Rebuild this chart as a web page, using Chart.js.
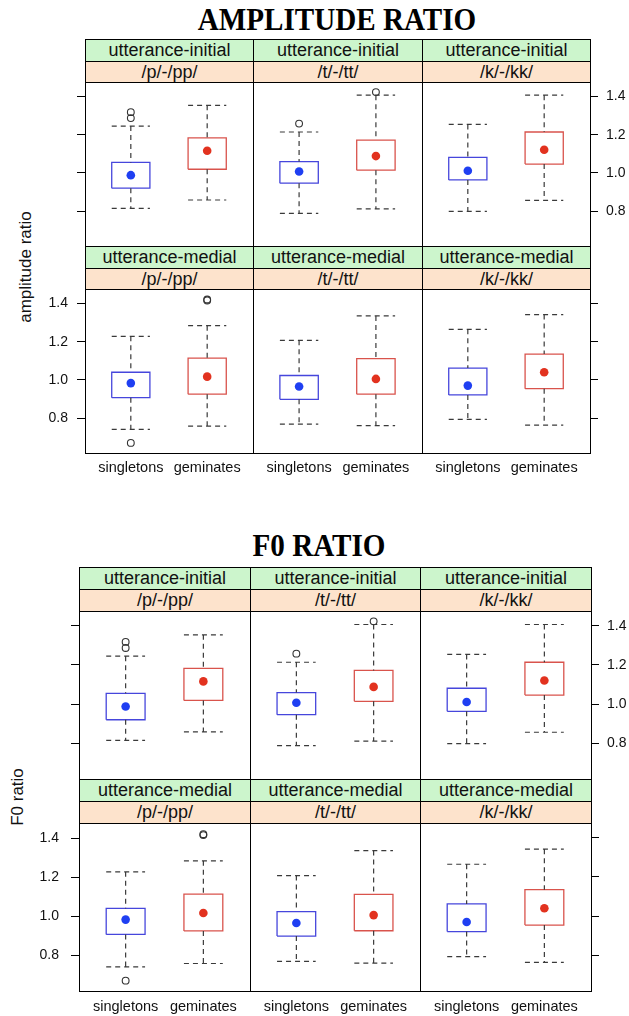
<!DOCTYPE html>
<html>
<head>
<meta charset="utf-8">
<script src="https://cdn.jsdelivr.net/npm/chart.js@4.4.1/dist/chart.umd.min.js"></script>
<style>
  html,body{margin:0;padding:0;background:#fff;}
  body{width:629px;height:1016px;position:relative;overflow:hidden;font-family:"Liberation Sans",Arial,sans-serif;}
  .strip{position:absolute;box-sizing:border-box;border:1px solid #000;text-align:center;font-size:18px;color:#111;white-space:nowrap;overflow:hidden;}
  .green{background:#ccf5cc;}
  .peach{background:#fde3cc;}
  .pbox{position:absolute;box-sizing:border-box;border:1px solid #000;pointer-events:none;}
  canvas{position:absolute;}
  .title{position:absolute;font-family:"Liberation Serif","Times New Roman",serif;font-weight:bold;font-size:32px;line-height:32px;white-space:nowrap;color:#000;transform:translateX(-50%) scaleX(0.91);}
  .ylab{position:absolute;font-size:17px;line-height:17px;color:#111;white-space:nowrap;transform:translate(-50%,-50%) rotate(-90deg);}
</style>
</head>
<body>
<script>
// ---------------- data ----------------
const groups = ['singletons', 'geminates'];
const xTickVals = [1, 2];
const phonemes = ['/p/-/pp/', '/t/-/tt/', '/k/-/kk/'];
const positionsLbl = ['utterance-initial', 'utterance-medial'];
const yTicks = [0.8, 1.0, 1.2, 1.4];
const yTickLabels = ['0.8', '1.0', '1.2', '1.4'];

// panel order: initial p, t, k, medial p, t, k
const singLow  = [0.814, 0.788, 0.798, 0.741, 0.768, 0.793];
const singQ1   = [0.920, 0.946, 0.963, 0.907, 0.898, 0.921];
const singMed  = [0.988, 1.007, 1.011, 0.983, 0.965, 0.970];
const singQ3   = [1.055, 1.059, 1.081, 1.040, 1.023, 1.062];
const singHigh = [1.245, 1.214, 1.254, 1.228, 1.207, 1.265];
const singOut  = [[1.318, 1.287], [1.258], [], [0.670], [], []];

const gemLow   = [0.858, 0.811, 0.856, 0.758, 0.760, 0.763];
const gemQ1    = [1.019, 1.014, 1.046, 0.925, 0.925, 0.954];
const gemMed   = [1.116, 1.088, 1.121, 1.017, 1.005, 1.040];
const gemQ3    = [1.183, 1.172, 1.214, 1.114, 1.111, 1.135];
const gemHigh  = [1.354, 1.407, 1.407, 1.284, 1.335, 1.342];
const gemOut   = [[], [1.423], [], [1.416, 1.421], [], []];

// the F0 figure shows the same values as the amplitude figure
const amplitudeData = {singLow, singQ1, singMed, singQ3, singHigh, singOut, gemLow, gemQ1, gemMed, gemQ3, gemHigh, gemOut};
const f0Data = amplitudeData;

// ---------------- styles / layout ----------------
const Y_MIN = 0.617, Y_MAX = 1.476;
const X_MIN = 0.4, X_MAX = 2.6;
const HALF = 0.25;
const ML = 50, MR = 50, MT = 20, MB = 30;
const BLUE_BOX = '#4646dc', BLUE_DOT = '#1f3ff2';
const RED_BOX = '#d9534c', RED_DOT = '#e2321f';
const WHISK = '#3a3a3a';
const FONT = '"Liberation Sans", Arial, sans-serif';

const FIGS = [
  {title:'AMPLITUDE RATIO', ylab:'amplitude ratio', data:amplitudeData, titleX:337, titleTop:3,
   left:85, colW:168.3, rowTops:[39, 246.2], stripH:21.6, panelH:164, ylabX:25, ylabY:267, lpad:9, rpad:8, xpad:6},
  {title:'F0 RATIO', ylab:'F0 ratio', data:f0Data, titleX:319, titleTop:529,
   left:79, colW:170.6, rowTops:[567, 779], stripH:22, panelH:168, ylabX:17, ylabY:797, lpad:12, rpad:8, xpad:7}
];

function el(cls, css, txt){
  const d = document.createElement('div');
  d.className = cls;
  Object.assign(d.style, css);
  if (txt !== undefined) d.textContent = txt;
  document.body.appendChild(d);
  return d;
}

function yAxis(pos, showTicks, showLabels, pad){
  return {
    type:'linear', position:pos, min:Y_MIN, max:Y_MAX,
    afterBuildTicks: s => { s.ticks = yTicks.map(v => ({value:v})); },
    afterFit: s => { s.width = (pos === 'left') ? ML : MR; },
    grid:{display:showTicks, drawOnChartArea:false, drawTicks:true, tickLength:8, tickColor:'#000', tickWidth:1},
    border:{display:false},
    ticks:{display:showLabels, padding:pad, autoSkip:false, color:'#111', font:{family:FONT, size:14},
           callback:(v, i) => yTickLabels[i]}
  };
}

function boxDatasets(D, k){
  const specs = [
    {c:xTickVals[0], lo:D.singLow[k], q1:D.singQ1[k], med:D.singMed[k], q3:D.singQ3[k], hi:D.singHigh[k], out:D.singOut[k], box:BLUE_BOX, dot:BLUE_DOT},
    {c:xTickVals[1], lo:D.gemLow[k], q1:D.gemQ1[k], med:D.gemMed[k], q3:D.gemQ3[k], hi:D.gemHigh[k], out:D.gemOut[k], box:RED_BOX, dot:RED_DOT}
  ];
  const ds = [];
  specs.forEach(s => {
    const L = s.c - HALF, R = s.c + HALF;
    ds.push({data:[{x:s.c,y:s.hi},{x:s.c,y:s.q3},{x:s.c,y:null},{x:s.c,y:s.q1},{x:s.c,y:s.lo},{x:s.c,y:null},
                   {x:L,y:s.hi},{x:R,y:s.hi},{x:R,y:null},{x:L,y:s.lo},{x:R,y:s.lo}],
             showLine:true, spanGaps:false, borderColor:WHISK, borderWidth:1.2, borderDash:[5,4], pointRadius:0, fill:false});
    ds.push({data:[{x:L,y:s.q1},{x:R,y:s.q1},{x:R,y:s.q3},{x:L,y:s.q3},{x:L,y:s.q1}],
             showLine:true, borderColor:s.box, borderWidth:1.3, pointRadius:0, fill:false});
    ds.push({data:[{x:s.c,y:s.med}], pointRadius:4.3, pointBackgroundColor:s.dot, pointBorderWidth:0, showLine:false});
    ds.push({data:s.out.map(v => ({x:s.c, y:v})), pointRadius:3.4, pointBackgroundColor:'rgba(0,0,0,0)',
             pointBorderColor:'#333', pointBorderWidth:1.1, showLine:false});
  });
  return ds;
}

FIGS.forEach(F => {
  el('title', {left:F.titleX + 'px', top:F.titleTop + 'px'}, F.title);
  el('ylab', {left:F.ylabX + 'px', top:F.ylabY + 'px'}, F.ylab);
  for (let r = 0; r < 2; r++){
    for (let c = 0; c < 3; c++){
      const k = r * 3 + c;
      const px = Math.round(F.left + c * F.colW);
      const pw = Math.round(F.left + (c + 1) * F.colW) - px;
      const rt = F.rowTops[r];
      const py = Math.round(rt + 2 * F.stripH);
      const ph = Math.round(rt + 2 * F.stripH + F.panelH) - py;
      // strips
      el('strip green', {left:px+'px', top:rt+'px', width:(pw+1)+'px', height:(F.stripH+1)+'px', lineHeight:(F.stripH-1)+'px'}, positionsLbl[r]);
      el('strip peach', {left:px+'px', top:(rt+F.stripH)+'px', width:(pw+1)+'px', height:(py-rt-F.stripH+1)+'px', lineHeight:(py-rt-F.stripH-1)+'px'}, phonemes[c]);
      // canvas
      const cv = document.createElement('canvas');
      cv.width = ML + pw + MR; cv.height = MT + ph + MB;
      cv.style.left = (px - ML) + 'px'; cv.style.top = (py - MT) + 'px';
      cv.style.width = cv.width + 'px'; cv.style.height = cv.height + 'px';
      document.body.appendChild(cv);
      const leftTicks = (c === 0), rightTicks = (c === 2);
      const leftLabels = (c === 0 && r === 1), rightLabels = (c === 2 && r === 0);
      new Chart(cv.getContext('2d'), {
        type:'scatter',
        data:{datasets:boxDatasets(F.data, k)},
        options:{
          responsive:false, animation:false, events:[],
          layout:{padding:{top:MT, left:0, right:0, bottom:0}},
          plugins:{legend:{display:false}, tooltip:{enabled:false}},
          scales:{
            x:{type:'linear', position:'bottom', min:X_MIN, max:X_MAX,
               afterBuildTicks: s => { s.ticks = xTickVals.map(v => ({value:v})); },
               afterFit: s => { s.height = MB; },
               grid:{display:false, drawTicks:false}, border:{display:false},
               ticks:{display:(r === 1), padding:F.xpad, autoSkip:false, maxRotation:0, minRotation:0,
                      color:'#111', font:{family:FONT, size:14.5}, callback:(v, i) => groups[i]}},
            y:yAxis('left', leftTicks, leftLabels, F.lpad),
            yR:yAxis('right', rightTicks, rightLabels, F.rpad)
          }
        }
      });
      el('pbox', {left:px+'px', top:py+'px', width:(pw+1)+'px', height:(ph+1)+'px'});
    }
  }
});
</script>
</body>
</html>
